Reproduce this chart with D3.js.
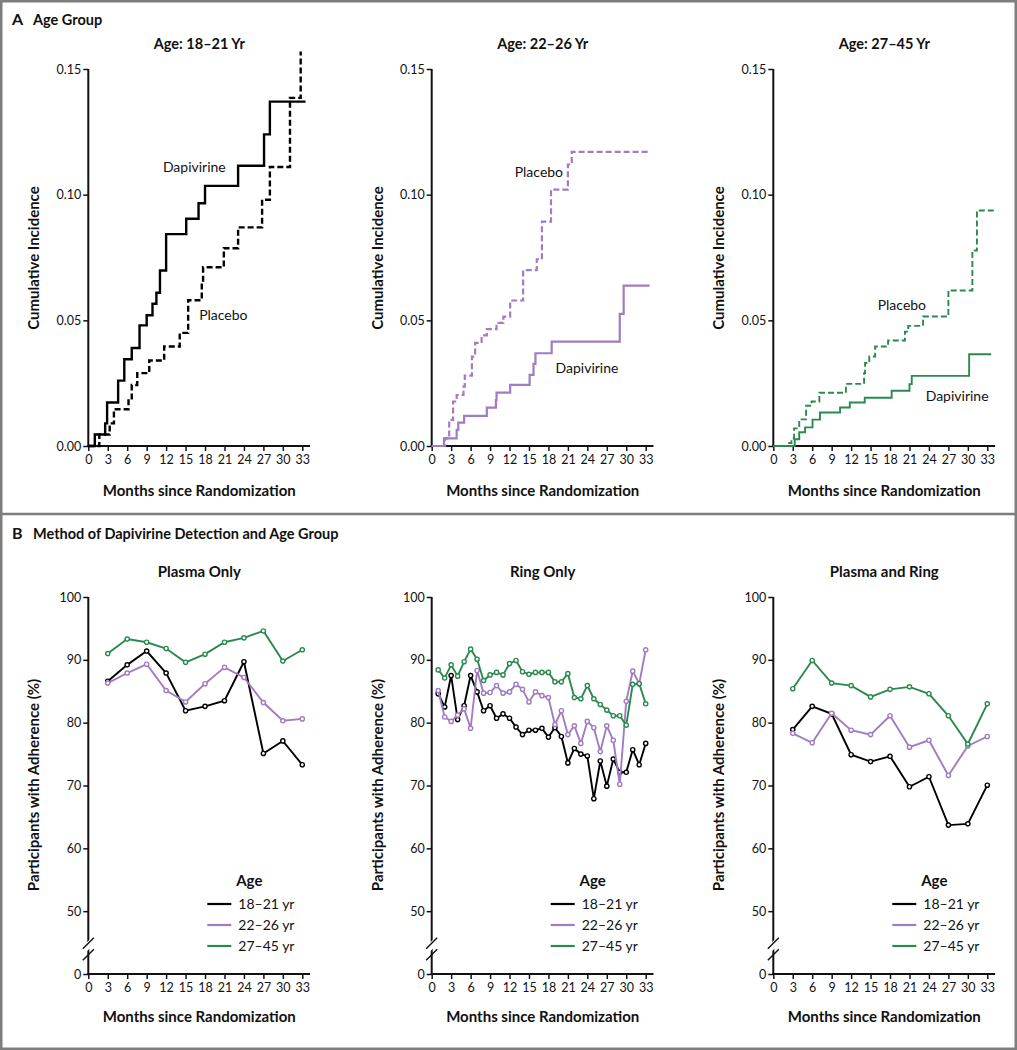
<!DOCTYPE html>
<html><head><meta charset="utf-8">
<script src="https://cdn.jsdelivr.net/npm/d3@7"></script>
<style>
body{margin:0;background:#fff}
svg{display:block}
text{font-family:Lato,"Open Sans","Noto Sans",sans-serif;fill:#111}
</style>
</head><body>
<svg id="c" width="1017" height="1050"></svg>
<script>
// ---------- DATA ----------
const monthTicks = [0,3,6,9,12,15,18,21,24,27,30,33];
const incTicks = [0,0.05,0.10,0.15];
const adhTicks = [40,50,60,70,80,90,100]; // 40 is drawn as broken-axis "0"
const ageGroups = ["18\u201321 yr","22\u201326 yr","27\u201345 yr"];
const panelATitles = ["Age: 18\u201321 Yr","Age: 22\u201326 Yr","Age: 27\u201345 Yr"];
const panelBTitles = ["Plasma Only","Ring Only","Plasma and Ring"];

// Panel A: Kaplan-Meier style step change points [month, cumulative incidence]
const dapi1821 = [[0,0],[1.0,0.0046],[2.6,0.009],[2.9,0.0173],[4.6,0.026],[5.55,0.0345],[6.7,0.039],[7.9,0.048],[9.0,0.052],[9.9,0.0566],[10.5,0.061],[11.05,0.0698],[12.0,0.0843],[15.1,0.0904],[17.0,0.0966],[18.0,0.1035],[23.1,0.1115],[27.1,0.124],[28.0,0.137],[33.5,0.137]];
const plac1821 = [[0,0],[1.7,0.0046],[3.3,0.009],[3.95,0.0146],[6.2,0.019],[6.7,0.0243],[7.55,0.029],[9.4,0.034],[11.7,0.0396],[14.1,0.045],[15.4,0.058],[17.5,0.0648],[17.7,0.0711],[20.9,0.0787],[23.1,0.087],[26.8,0.098],[28.0,0.111],[31.1,0.1385],[32.75,0.157]];
const dapi2226 = [[0,0],[1.9,0.003],[3.85,0.0064],[4.1,0.0093],[5.0,0.012],[8.5,0.0153],[9.9,0.0183],[10.0,0.0212],[12.1,0.0243],[15.1,0.0283],[15.7,0.0327],[16.0,0.0369],[18.5,0.0415],[29.0,0.0526],[29.6,0.0638],[33.6,0.0638]];
const plac2226 = [[0,0],[2.05,0.003],[2.7,0.0104],[3.3,0.0177],[3.85,0.0203],[4.9,0.0236],[5.1,0.028],[6.2,0.0356],[6.7,0.041],[7.7,0.044],[8.5,0.0465],[10.0,0.049],[11.05,0.0515],[12.1,0.0579],[14.1,0.070],[16.2,0.0743],[17.0,0.0893],[18.4,0.102],[21.0,0.112],[21.6,0.117],[33.6,0.117]];
const dapi2745 = [[0,0],[3.3,0.0027],[4.0,0.0055],[4.9,0.0074],[6.05,0.0105],[7.2,0.0133],[10.3,0.0153],[11.8,0.0173],[14.1,0.0192],[18.25,0.022],[21.0,0.0246],[21.35,0.0279],[30.2,0.0365],[33.6,0.0365]];
const plac2745 = [[0,0],[2.3,0.0012],[2.8,0.003],[3.2,0.007],[4.0,0.0106],[5.05,0.016],[5.9,0.0177],[7.1,0.0212],[11.2,0.0247],[14.0,0.029],[14.15,0.033],[14.8,0.0356],[15.7,0.0396],[17.7,0.042],[20.3,0.0455],[20.8,0.0478],[23.1,0.0515],[27.0,0.0619],[30.7,0.0778],[31.4,0.0937],[34.2,0.0937]];

// Panel B: adherence (%)
const quarterMonths = [3,6,9,12,15,18,21,24,27,30,33];
const monthlyMonths = [1,2,3,4,5,6,7,8,9,10,11,12,13,14,15,16,17,18,19,20,21,22,23,24,25,26,27,28,29,30,31,32,33];

const plasma1821 = [86.6,89.2,91.4,87.9,81.9,82.6,83.5,89.7,75.1,77.1,73.3];
const plasma2226 = [86.3,87.9,89.3,85.1,83.3,86.2,88.8,87.2,83.2,80.3,80.6];
const plasma2745 = [91.0,93.3,92.8,91.8,89.6,90.9,92.8,93.5,94.6,89.8,91.6];

const ring1821 = [84.6,82.5,87.5,80.5,82.7,87.5,84.9,81.9,82.7,80.7,81.4,80.7,79.3,78.1,78.8,78.8,79.1,77.7,79.2,77.8,73.6,75.9,75.0,74.7,67.9,73.9,69.9,74.2,72.1,72.1,75.7,73.3,76.7];
const ring2226 = [85.1,80.9,80.2,81.2,82.2,79.1,88.3,84.7,84.8,85.9,84.7,84.9,86.1,85.3,83.3,84.9,84.3,84.0,79.7,81.9,78.1,79.5,76.7,80.2,79.2,75.4,79.5,77.2,70.2,83.4,88.2,86.2,91.6];
const ring2745 = [88.4,87.1,89.2,87.4,89.7,91.7,90.1,86.7,87.6,88.0,87.6,89.4,89.9,88.1,87.7,88.0,88.0,88.0,86.5,86.5,87.8,84.0,83.8,85.9,83.8,82.9,82.0,81.1,81.1,79.6,86.1,86.2,83.0];

const both1821 = [78.9,82.6,81.4,74.9,73.8,74.65,69.8,71.4,63.7,63.9,70.05];
const both2226 = [78.3,76.8,81.5,78.8,78.1,81.1,76.1,77.2,71.6,76.3,77.8];
const both2745 = [85.4,89.9,86.3,85.9,84.1,85.3,85.7,84.6,81.1,76.6,83.0];

const colors = ["#000000","#a07cc2","#2a8a4e"];

// ---------- DRAW ----------
const svg = d3.select("#c");
const origins = [88.3, 431.7, 773.3];
const plotW = 214; // pixels for 33 months

// frame
svg.append("rect").attr("x",1.25).attr("y",1.25).attr("width",1014.5).attr("height",1047.5)
  .attr("fill","none").attr("stroke","#7d7d7d").attr("stroke-width",2.5);
svg.append("line").attr("x1",0).attr("x2",1017).attr("y1",514).attr("y2",514)
  .attr("stroke","#7d7d7d").attr("stroke-width",2.5);

function header(letter, txt, y){
  svg.append("text").attr("x",12).attr("y",y).attr("font-size",16).attr("font-weight",700).text(letter);
  svg.append("text").attr("x",33).attr("y",y).attr("font-size",14.5).attr("font-weight",700).text(txt);
}
header("A","Age Group",25);
header("B","Method of Dapivirine Detection and Age Group",539);

function styleAxis(g){
  g.selectAll(".tick line").attr("stroke","#111").attr("stroke-width",1.5);
  g.selectAll(".tick text").attr("font-size",12.5).attr("fill","#111")
    .style("font-family","Lato,'Open Sans',sans-serif");
}

function drawFrame(ox, y, yTicks, yFmt, yBottom, yTop, title, titleY, titleSize, ylab, ylabY, xlabY){
  const x = d3.scaleLinear().domain([0,33]).range([ox, ox+plotW]);
  const g = svg.append("g");
  // x axis
  const gx = g.append("g").attr("transform",`translate(0,${yBottom})`)
    .call(d3.axisBottom(x).tickValues(monthTicks).tickSize(5).tickSizeOuter(0).tickPadding(4));
  gx.select(".domain").remove();
  styleAxis(gx);
  g.append("line").attr("x1",x(0)-1).attr("x2",x(34.2)).attr("y1",yBottom).attr("y2",yBottom)
    .attr("stroke","#111").attr("stroke-width",2);
  // y axis
  const gy = g.append("g").attr("transform",`translate(${ox},0)`)
    .call(d3.axisLeft(y).tickValues(yTicks).tickFormat(yFmt).tickSize(5).tickSizeOuter(0).tickPadding(2));
  gy.select(".domain").remove();
  styleAxis(gy);
  g.append("line").attr("x1",ox).attr("x2",ox).attr("y1",yTop).attr("y2",yBottom+1)
    .attr("stroke","#111").attr("stroke-width",2);
  // title + labels
  const cx = ox + 111;
  g.append("text").attr("x",cx).attr("y",titleY).attr("text-anchor","middle")
    .attr("font-size",titleSize).attr("font-weight",700).text(title);
  g.append("text").attr("x",cx).attr("y",xlabY).attr("text-anchor","middle")
    .attr("font-size",15).attr("font-weight",700).text("Months since Randomization");
  g.append("text").attr("transform",`translate(${ox-49},${ylabY}) rotate(-90)`)
    .attr("text-anchor","middle").attr("font-size",15).attr("font-weight",700).text(ylab);
  return {x,g};
}

// Panel A
const yA = d3.scaleLinear().domain([0,0.15]).range([446,69]);
const stepLine = (x)=> d3.line().curve(d3.curveStepAfter).x(d=>x(d[0])).y(d=>yA(d[1]));
const panelA = [
  {d:dapi1821, p:plac1821, c:colors[0], w:2.4, dl:[11.5,0.109], pl:[17.1,0.050]},
  {d:dapi2226, p:plac2226, c:colors[1], w:2.2, dl:[19.1,0.029], pl:[12.8,0.107]},
  {d:dapi2745, p:plac2745, c:colors[2], w:1.9, dl:[23.5,0.018], pl:[16.1,0.054]}
];
panelA.forEach((s,i)=>{
  const {x,g} = drawFrame(origins[i], yA, incTicks, d3.format(".2f"), 446, 69,
    panelATitles[i], 49, 14.5, "Cumulative Incidence", 258, 496);
  g.append("path").datum(s.p).attr("d",stepLine(x)).attr("fill","none")
    .attr("stroke",s.c).attr("stroke-width",s.w).attr("stroke-dasharray","6,3");
  g.append("path").datum(s.d).attr("d",stepLine(x)).attr("fill","none")
    .attr("stroke",s.c).attr("stroke-width",s.w);
  g.append("text").attr("x",x(s.dl[0])).attr("y",yA(s.dl[1])).attr("font-size",14).text("Dapivirine");
  g.append("text").attr("x",x(s.pl[0])).attr("y",yA(s.pl[1])).attr("font-size",14).text("Placebo");
});

// Panel B
const yB = d3.scaleLinear().domain([40,100]).range([974,597]);
const panelB = [
  {m:quarterMonths, s:[plasma1821,plasma2226,plasma2745]},
  {m:monthlyMonths, s:[ring1821,ring2226,ring2745]},
  {m:quarterMonths, s:[both1821,both2226,both2745]}
];
panelB.forEach((pb,i)=>{
  const ox = origins[i];
  const {x,g} = drawFrame(ox, yB, adhTicks, v=> v===40 ? "0" : d3.format("d")(v), 974, 597,
    panelBTitles[i], 577, 15, "Participants with Adherence (%)", 785, 1022);
  // axis break
  g.append("polygon").attr("points",`${ox-4},${yB(43.2)} ${ox+4},${yB(44.5)} ${ox+4},${yB(45.9)} ${ox-4},${yB(44.6)}`)
    .attr("fill","#fff");
  [0,1].forEach(k=>{
    const yy = k===0 ? yB(43.0) : yB(44.8);
    g.append("line").attr("x1",ox-5.5).attr("y1",yy+5).attr("x2",ox+5.5).attr("y2",yy-6)
      .attr("stroke","#111").attr("stroke-width",1.4);
  });
  const line = d3.line().x((d,j)=>x(pb.m[j])).y(d=>yB(d));
  pb.s.forEach((vals,k)=>{
    g.append("path").datum(vals).attr("d",line).attr("fill","none")
      .attr("stroke",colors[k]).attr("stroke-width",1.9);
    g.selectAll(null).data(vals).enter().append("circle")
      .attr("cx",(d,j)=>x(pb.m[j])).attr("cy",d=>yB(d)).attr("r",2.1)
      .attr("fill","#fff").attr("stroke",colors[k]).attr("stroke-width",1.4);
  });
  // legend
  g.append("text").attr("x",ox+161).attr("y",886).attr("text-anchor","middle")
    .attr("font-size",15).attr("font-weight",700).text("Age");
  ageGroups.forEach((a,k)=>{
    const yy = 904 + k*21;
    g.append("line").attr("x1",ox+119).attr("x2",ox+143).attr("y1",yy).attr("y2",yy)
      .attr("stroke",colors[k]).attr("stroke-width",2.2);
    g.append("text").attr("x",ox+150).attr("y",yy+4.5).attr("font-size",14).text(a);
  });
});
</script>
</body></html>
